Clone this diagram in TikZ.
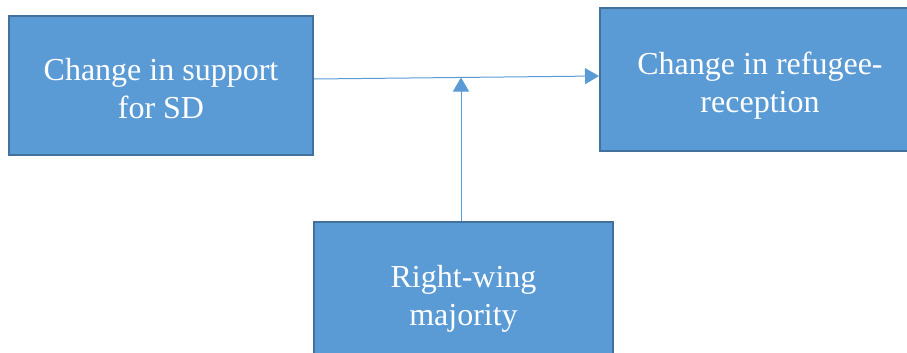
\documentclass[tikz,border=0pt]{standalone}
\usepackage{fontspec}
\setmainfont{Liberation Serif}
\usetikzlibrary{arrows.meta}
\definecolor{boxblue}{HTML}{5B9BD5}
\definecolor{boxedge}{HTML}{41719C}
\begin{document}
\begin{tikzpicture}[x=1pt,y=-1pt,
		factor/.style={draw=boxedge, line width=2pt, fill=boxblue, inner sep=0pt},
		factortext/.style={text=white, inner sep=0pt, align=center, font=\fontsize{32}{38}\selectfont},
		link/.style={draw=boxblue, line width=1pt, -{Triangle[width=16pt,length=14pt]}}]
		\useasboundingbox (0,0) rectangle (907,353);
		\clip (0,0) rectangle (907,353);
		%boxes
		\node (sd) [factor, minimum width=304pt, minimum height=139pt] at(161,85.5) {};
		\node (refugee) [factor, minimum width=320pt, minimum height=143pt] at(760,79.5) {};
		\node (rightwing) [factor, minimum width=299pt, minimum height=146pt] at(463.5,295) {};
		%labels
		\node (sdtext) [factortext] at([yshift=-3pt]sd) {Change in support\\for SD};
		\node (refugeetext) [factortext] at([yshift=-6pt]refugee) {Change in refugee-\\reception};
		\node (rightwingtext) [factortext] at([yshift=-4pt]rightwing) {Right-wing\\majority};
		%arrows
		\coordinate (mid) at(461,77.5);
		\draw [link] (sd.east |- 0,79) -- (refugee.west |- 0,76);
		\draw [link] (rightwing.north -| mid) -- (mid);
	\end{tikzpicture}
\end{document}
